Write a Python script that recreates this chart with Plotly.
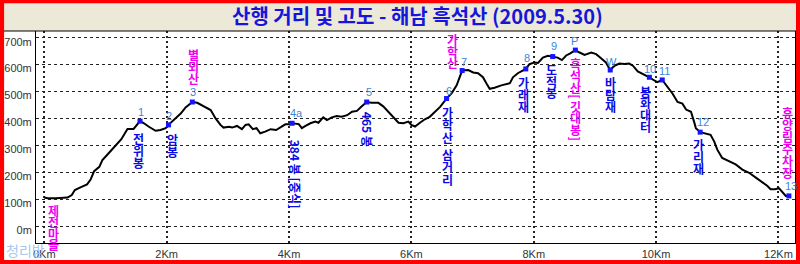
import plotly.graph_objects as go

# ---------------- data ----------------
dist_km = [0.00, 0.055, 0.19, 0.30, 0.38, 0.45, 0.50, 0.60, 0.70, 0.76, 0.815, 0.90, 0.95, 1.03, 1.115,
           1.20, 1.26, 1.36, 1.46, 1.565, 1.63, 1.71, 1.82, 1.90, 1.985, 2.03, 2.12, 2.23, 2.31, 2.42,
           2.50, 2.58, 2.66, 2.72, 2.80, 2.88, 2.93, 3.02, 3.07, 3.15, 3.23, 3.29, 3.34, 3.41, 3.47,
           3.53, 3.61, 3.70, 3.79, 3.86, 3.94, 4.02, 4.05, 4.16, 4.21, 4.27, 4.35, 4.43, 4.48, 4.56,
           4.62, 4.70, 4.78, 4.86, 4.95, 5.03, 5.11, 5.19, 5.27, 5.35, 5.46, 5.54, 5.62, 5.70, 5.79,
           5.87, 5.95, 6.00, 6.06, 6.14, 6.22, 6.30, 6.39, 6.47, 6.575, 6.66, 6.74, 6.79, 6.83, 6.93,
           7.01, 7.09, 7.17, 7.23, 7.28, 7.36, 7.47, 7.61, 7.66, 7.74, 7.87, 7.93, 8.01, 8.07, 8.15,
           8.23, 8.31, 8.39, 8.46, 8.53, 8.59, 8.68, 8.75, 8.83, 8.94, 9.02, 9.10, 9.18, 9.25, 9.32,
           9.40, 9.48, 9.56, 9.62, 9.70, 9.78, 9.89, 9.97, 10.02, 10.10, 10.19, 10.27, 10.35, 10.43,
           10.49, 10.57, 10.62, 10.65, 10.72, 10.81, 10.89, 10.95, 11.00, 11.08, 11.19, 11.30, 11.41,
           11.52, 11.63, 11.74, 11.82, 11.87, 11.94, 12.01, 12.06, 12.12, 12.17]
elev_m = [106, 103, 103, 106, 106, 115, 134, 145, 155, 174, 204, 220, 245, 265, 286,
          311, 323, 361, 361, 390, 382, 369, 354, 357, 364, 376, 394, 418, 441, 461,
          458, 449, 437, 431, 400, 376, 366, 369, 366, 372, 360, 376, 378, 360, 364,
          345, 351, 360, 357, 366, 378, 378, 382, 379, 364, 372, 382, 388, 384, 404,
          394, 404, 409, 406, 412, 425, 428, 445, 461, 458, 458, 445, 425, 404, 384,
          382, 388, 376, 370, 384, 397, 406, 425, 443, 474, 494, 523, 553, 578, 580,
          571, 568, 553, 529, 510, 514, 523, 531, 553, 568, 584, 602, 608, 606, 626,
          633, 630, 626, 617, 634, 641, 654, 645, 636, 645, 639, 624, 608, 580, 596,
          604, 602, 604, 596, 575, 566, 553, 541, 535, 543, 516, 492, 461, 455,
          433, 425, 388, 364, 349, 343, 339, 314, 284, 253, 241, 229, 210,
          198, 180, 162, 149, 137, 137, 140, 127, 112, 112]

wp_names = ["1", "2", "3", "4a", "5", "6", "7", "8", "9", "P", "W", "10", "11", "12", "13"]
wp_km = [1.565, 2.03, 2.42, 4.05, 5.27, 6.575, 6.83, 7.87, 8.31, 8.68, 9.25, 9.89, 10.10, 10.72, 12.17]
wp_elev = [390, 376, 461, 382, 461, 474, 578, 584, 630, 654, 580, 553, 543, 349, 112]

x_ticks = [0, 2, 4, 6, 8, 10, 12]
x_tick_text = ["0Km", "2Km", "4Km", "6Km", "8Km", "10Km", "12Km"]
y_ticks = [0, 100, 200, 300, 400, 500, 600, 700]
y_tick_text = ["0m", "100m", "200m", "300m", "400m", "500m", "600m", "700m"]

title_text = "산행 거리 및 고도 - 해남 흑석산 (2009.5.30)"
watermark = "청리방"

# place labels: (anchor km, anchor elev, text, colour key)
place_labels = [
    (0.0, 106, "제전마을", "m"),
    (1.565, 390, "전위봉", "b"),
    (2.03, 376, "암봉", "b"),
    (2.42, 461, "별뫼산", "m"),
    (4.05, 382, "384 봉 [중식]", "b"),
    (5.27, 461, "465 봉", "b"),
    (6.83, 578, "가학산", "m"),
    (6.575, 474, "가학산 삼거리", "b"),
    (7.87, 584, "가래재", "b"),
    (8.31, 630, "도적봉", "b"),
    (8.68, 654, "흑석산[깃대봉]", "m"),
    (9.25, 580, "바람재", "b"),
    (9.89, 553, "봉화대터", "b"),
    (10.72, 349, "가리재", "b"),
    (12.17, 112, "휴양림주차장", "m"),
]

# ---------------- layout / style (pixels) ----------------
W, H = 800, 264
ML, MR, MT, MB = 35, 4, 31, 20
PW, PH = W - ML - MR, H - MT - MB
X_RANGE = [-0.135, 12.27]
Y_RANGE = [-63, 725]

# offsets for place labels: (direction, offset px, xshift, step px, rotated)
label_style = [
    ("below", 7, 9, 11.5, False),
    ("below", 12, -1.5, 11.7, False),
    ("below", 9, 4, 11.5, False),
    ("above", 17, 1.5, 12.3, False),
    ("below", 12, 3, 77, True),
    ("below", 8, 1.5, 38, True),
    ("above", 2, -10, 11.7, False),
    ("below", 8, 0.5, 12.3, False),
    ("below", 7, -2, 12.3, False),
    ("below", 7, -1, 11.7, False),
    ("below", 8, 0, 11.7, False),
    ("below", 6, 0, 12.3, False),
    ("below", 8, -3.5, 11.7, False),
    ("below", 6, -2, 12.3, False),
    ("above", 17, -1.5, 12.0, False),
]
num_shift = [(1, 9), (1, 9), (1, 10), (4, 10), (2, 10), (2, 8), (2, 9), (1, 11), (1, 11),
             (-1, 9), (1, 8), (1, 8), (2, 9), (3, 10), (2, 10)]

COL = {"m": "#f000f0", "b": "#0a0ae6"}
KFONT = "Noto Sans CJK KR"

fig = go.Figure()
fig.add_trace(go.Scatter(x=dist_km, y=elev_m, mode="lines",
                         line=dict(color="black", width=2), hoverinfo="skip"))
fig.add_trace(go.Scatter(x=wp_km, y=wp_elev, mode="markers",
                         marker=dict(symbol="square", size=5, color="#1414ff", line=dict(width=0)),
                         hoverinfo="skip"))

annotations = []
# waypoint numbers
for name, xk, ye, (dx, dy) in zip(wp_names, wp_km, wp_elev, num_shift):
    annotations.append(dict(x=xk, y=ye, xref="x", yref="y", text=name, showarrow=False,
                            xshift=dx, yshift=dy, xanchor="center", yanchor="middle",
                            font=dict(family="Liberation Sans, Arial", size=11, color="#3a86e0")))

# vertical place labels
for (xk, ye, txt, ck), (direction, off, xs, step, rot) in zip(place_labels, label_style):
    color = COL[ck]
    if rot:
        center = -(off + step / 2)
        annotations.append(dict(x=xk, y=ye, xref="x", yref="y", text="<b>" + txt + "</b>",
                                showarrow=False, textangle=90, xshift=xs, yshift=center,
                                xanchor="center", yanchor="middle",
                                font=dict(family=KFONT, size=12, color=color)))
        continue
    chars = list(txt)
    heights = []
    for c in chars:
        if c == " ":
            heights.append(5)
        elif c in "[]":
            heights.append(7)
        else:
            heights.append(step)
    total = sum(heights)
    pos = 0.0
    for c, h in zip(chars, heights):
        if c != " ":
            if direction == "below":
                center = -(off + pos + h / 2)
            else:
                center = off + total - pos - h / 2
            ann = dict(x=xk, y=ye, xref="x", yref="y", text="<b>" + c + "</b>", showarrow=False,
                       xshift=xs, yshift=center, xanchor="center", yanchor="middle",
                       font=dict(family=KFONT, size=12, color=color))
            if c in "[]":
                ann["textangle"] = 90
            annotations.append(ann)
        pos += h

# title
annotations.append(dict(x=(W / 2 + 18 - ML) / PW, y=1 + (MT / 2) / PH, xref="paper", yref="paper",
                        text="<b>" + title_text + "</b>", showarrow=False,
                        xanchor="center", yanchor="middle",
                        font=dict(family=KFONT, size=20, color="#1616d8")))
# watermark
annotations.append(dict(x=(3 - ML) / PW, y=-(251 - MT - PH) / PH, xref="paper", yref="paper",
                        text=watermark, showarrow=False, xanchor="left", yanchor="middle",
                        font=dict(family=KFONT, size=14, color="#a9c6ee")))

shapes = [
    dict(type="rect", xref="paper", yref="paper", x0=-ML / PW, x1=1 + MR / PW,
         y0=1, y1=1 + MT / PH, fillcolor="#ece9d8", line=dict(width=0), layer="above"),
    dict(type="line", xref="paper", yref="paper", x0=-ML / PW, x1=1 + MR / PW,
         y0=1, y1=1, line=dict(color="black", width=1.2), layer="above"),
    dict(type="rect", xref="paper", yref="paper", x0=-ML / PW, x1=1 + MR / PW,
         y0=-MB / PH, y1=1 + MT / PH, fillcolor="rgba(0,0,0,0)",
         line=dict(color="#ff0000", width=6), layer="above"),
]

fig.update_layout(
    width=W, height=H, margin=dict(l=ML, r=MR, t=MT, b=MB, pad=0),
    paper_bgcolor="white", plot_bgcolor="white", showlegend=False,
    annotations=annotations, shapes=shapes,
    xaxis=dict(range=X_RANGE, tickvals=x_ticks, ticktext=x_tick_text, showgrid=True,
               gridcolor="#222222", griddash="2px,3px", gridwidth=1.5, zeroline=False,
               showline=True, mirror=True, linecolor="black", linewidth=1, ticks="",
               tickfont=dict(family="Liberation Sans, Arial", size=11, color="#333333"),
               ticklabelstandoff=1, fixedrange=True),
    yaxis=dict(range=Y_RANGE, tickvals=y_ticks, ticktext=y_tick_text, showgrid=True,
               gridcolor="#222222", griddash="3px,3px", gridwidth=1, zeroline=False,
               showline=True, mirror=True, linecolor="black", linewidth=1, ticks="",
               tickfont=dict(family="Liberation Sans, Arial", size=11, color="#333333"),
               ticklabelstandoff=1, ticklabelshift=4, fixedrange=True),
)

fig.write_html("out.html", config={"displayModeBar": False})
